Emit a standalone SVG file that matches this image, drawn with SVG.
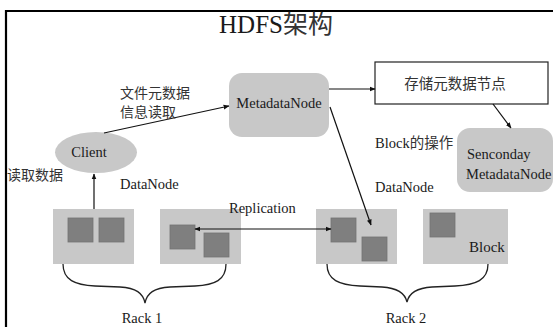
<svg xmlns="http://www.w3.org/2000/svg" width="553" height="327" viewBox="0 0 553 327">
<style>
.lat{font-family:"Liberation Serif","Times New Roman",serif;fill:#1a1a1a}
.cjk{font-family:"Noto Sans CJK SC","Liberation Sans",sans-serif;fill:#333}
.gray{fill:#c8c8c8}
.dn{fill:#c8c8c8}
.sq{fill:#7f7f7f;stroke:#737373;stroke-width:0.8}
.conn{stroke:#111;stroke-width:1.2;fill:none}
.brace{stroke:#222;stroke-width:1.3;fill:none}
</style>
<defs>
<marker id="ah" viewBox="0 0 10 10" refX="9" refY="5" markerWidth="6" markerHeight="6" markerUnits="userSpaceOnUse" orient="auto-start-reverse">
<path d="M0,1 L10,5 L0,9 Z" fill="#111"/>
</marker>
</defs>
<rect width="553" height="327" fill="#fff"/>
<path d="M6,330 V11 H556" fill="none" stroke="#000" stroke-width="2.2"/>
<text x="276" y="33" text-anchor="middle" font-size="25"><tspan class="lat">HDFS</tspan><tspan class="cjk" fill="#222">架构</tspan></text>

<g id="metadatanode">
<rect x="229" y="73" width="100" height="64" rx="13" class="gray"/>
<text x="279" y="108" text-anchor="middle" font-size="14.5" class="lat">MetadataNode</text>
</g>
<g id="store-node">
<rect x="375" y="62" width="173" height="42" fill="#fff" stroke="#222" stroke-width="1.2"/>
<text x="455" y="89" text-anchor="middle" font-size="14.5" class="cjk">存储元数据节点</text>
</g>
<g id="secondary">
<rect x="457" y="128" width="96" height="64" rx="13" class="gray"/>
<text x="467" y="159" font-size="14.5" class="lat">Senconday</text>
<text x="466" y="179" font-size="14.5" class="lat">MetadataNode</text>
</g>
<g id="client">
<ellipse cx="96" cy="152.5" rx="41" ry="20.5" class="gray"/>
<text x="89" y="157" text-anchor="middle" font-size="14.5" class="lat">Client</text>
</g>
<g id="rack1-dn1">
<rect x="53" y="209" width="81" height="55" class="dn"/>
<rect x="68" y="218" width="25" height="24" class="sq"/>
<rect x="99" y="218" width="25" height="24" class="sq"/>
</g>
<g id="rack1-dn2">
<rect x="160" y="209" width="81" height="55" class="dn"/>
<rect x="170" y="225" width="25" height="24" class="sq"/>
<rect x="204" y="233" width="25" height="24" class="sq"/>
</g>
<g id="rack2-dn1">
<rect x="316" y="209" width="81" height="55" class="dn"/>
<rect x="331" y="218" width="25" height="24" class="sq"/>
<rect x="362" y="237" width="25" height="24" class="sq"/>
</g>
<g id="rack2-dn2">
<rect x="423" y="209" width="85" height="55" class="dn"/>
<rect x="430" y="213" width="25" height="24" class="sq"/>
<text x="469" y="252" font-size="15" class="lat">Block</text>
</g>

<g id="connectors">
<line x1="104" y1="133" x2="229" y2="106" class="conn" marker-end="url(#ah)"/>
<line x1="329" y1="89" x2="375" y2="89" class="conn" marker-end="url(#ah)"/>
<line x1="493" y1="104" x2="511" y2="128" class="conn" marker-end="url(#ah)"/>
<line x1="330" y1="107" x2="371" y2="225" class="conn" marker-end="url(#ah)"/>
<line x1="94" y1="209" x2="94" y2="174" class="conn" marker-end="url(#ah)"/>
<line x1="195" y1="229" x2="331" y2="229" class="conn" marker-start="url(#ah)" marker-end="url(#ah)"/>
<path class="brace" d="M63,264 C63,280 75,285 95,286 L120,287 C136,288 143,293 145,303 C147,293 154,288 170,287 L195,286 C215,285 226,280 226,264"/>
<path class="brace" d="M327,264 C327,280 339,285 360,286 L382,287 C398,288 405,293 407,302 C409,293 416,288 432,287 L455,286 C476,285 488,280 488,264"/>
</g>

<g id="labels">
<text x="120" y="98" font-size="14" class="cjk">文件元数据</text>
<text x="120" y="117" font-size="14" class="cjk">信息读取</text>
<text x="7" y="180" font-size="14" class="cjk">读取数据</text>
<text x="120" y="189" font-size="14.5" class="lat">DataNode</text>
<text x="375" y="148" font-size="14.5" class="lat">Block<tspan class="cjk" fill="#333">的操作</tspan></text>
<text x="375" y="192" font-size="14.5" class="lat">DataNode</text>
<text x="229" y="213" font-size="14.5" class="lat">Replication</text>
<text x="142" y="323" text-anchor="middle" font-size="14.5" class="lat">Rack 1</text>
<text x="406" y="323" text-anchor="middle" font-size="14.5" class="lat">Rack 2</text>
</g>
</svg>
